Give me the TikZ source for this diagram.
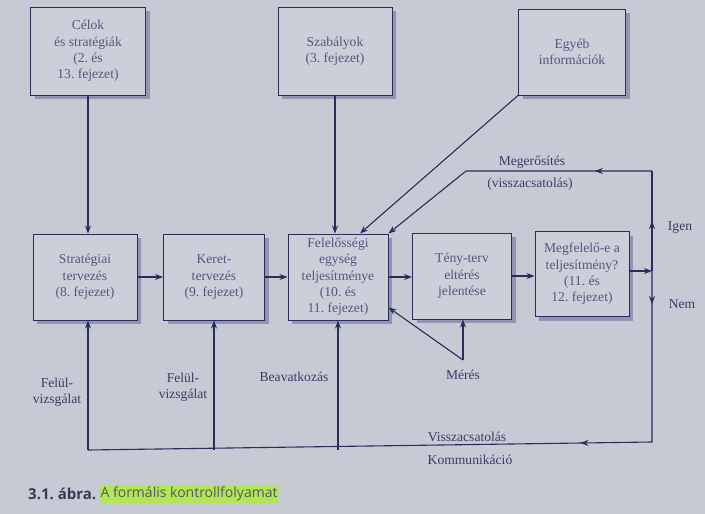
\documentclass[tikz,border=0pt]{standalone}
\usepackage{fontspec}
\setmainfont{Liberation Serif}
\newfontfamily\capfont{Open Sans}
\usetikzlibrary{arrows.meta,shadows,decorations.markings,calc}
\definecolor{bg}{RGB}{198,202,213}
\definecolor{boxfill}{RGB}{203,207,218}
\definecolor{ln}{RGB}{40,45,90}
\definecolor{txt}{RGB}{88,84,126}
\definecolor{lbltxt}{RGB}{60,60,102}
\definecolor{shd}{RGB}{140,144,174}
\definecolor{hl}{RGB}{178,230,85}
\definecolor{capdark}{RGB}{60,56,84}
\definecolor{capgray}{RGB}{86,86,98}
\frenchspacing
\begin{document}
\begin{tikzpicture}[x=1pt,y=-1pt,
  box/.style={draw=ln, line width=1pt, fill=boxfill, text=txt, align=center,
    font=\fontsize{13.6}{16.3}\selectfont, inner sep=0pt,
    drop shadow={shadow xshift=4pt, shadow yshift=-4pt, fill=shd, opacity=0.9}},
  conn/.style={draw=ln, line width=1.1pt},
  tip/.tip={Stealth[length=8pt,width=6pt]},
  arr/.style={conn, -tip},
  lbl/.style={text=lbltxt, font=\fontsize{13.6}{16.5}\selectfont, align=center, inner sep=0pt}]
\fill[bg] (0,0) rectangle (705,514);
\useasboundingbox (0,0) rectangle (705,514);

% top boxes
\node[box, minimum width=115pt, minimum height=88pt] (celok) at (88,51) {Célok\\és stratégiák\\(2. és\\13. fejezet)};
\node[box, minimum width=114pt, minimum height=88pt] (szab) at (335,51) {Szabályok\\(3. fejezet)};
\node[box, minimum width=107pt, minimum height=86pt] (egyeb) at (572,52) {Egyéb\\információk};

% middle row
\node[box, minimum width=104pt, minimum height=86pt] (strat) at (85,277) {Stratégiai\\tervezés\\(8. fejezet)};
\node[box, minimum width=101pt, minimum height=86pt] (keret) at (214,277) {Keret-\\tervezés\\(9. fejezet)};
\node[box, minimum width=100pt, minimum height=86pt] (felel) at (338,277) {Felelősségi\\egység\\teljesítménye\\(10. és\\11. fejezet)};
\node[box, minimum width=99pt, minimum height=86pt] (teny) at (462,276) {Tény-terv\\eltérés\\jelentése};
\node[box, minimum width=94pt, minimum height=85pt] (megf) at (582,274) {Megfelelő-e a\\teljesítmény?\\(11. és\\12. fejezet)};

% coordinates
\coordinate (j) at (652,271);
\coordinate (tr) at (652,171);
\coordinate (tl) at (466,171);
\coordinate (br) at (652,442);
\coordinate (bl) at (88,450);
\coordinate (ap) at (463,360);

% vertical inputs
\draw[arr] (celok.south) -- (celok.south |- strat.north);
\draw[arr] (szab.south) -- (szab.south |- felel.north);
\draw[arr] (egyeb.south west) -- ($(felel.north)+(22,0)$);

% horizontal flow
\draw[arr] (strat.east) -- (keret.west);
\draw[arr] (keret.east) -- (felel.west);
\draw[arr] (felel.east) -- (felel.east -| teny.west);
\draw[arr] (teny.east) -- (teny.east -| megf.west);
\draw[arr] (megf.east |- j) -- (j);

% Igen branch
\draw[conn, postaction={decorate}, decoration={markings, mark=at position 0.5 with {\arrow{tip}}}] (j) -- (tr);
\draw[arr, postaction={decorate}, decoration={markings, mark=at position 0.2 with {\arrow{tip}}}] (tr) -- (tl) -- (felel.north east);

% Nem branch
\draw[conn, postaction={decorate}, decoration={markings,
   mark=at position 0.045 with {\arrow{tip}},
   mark=at position 0.33 with {\arrow{tip}}}] (j) -- (br) -- (bl);
\draw[arr] (bl) -- (bl |- strat.south);
\draw[arr] (keret.south |- bl) -- (keret.south);
\draw[arr] (felel.south |- bl) -- (felel.south);

% Meres
\draw[arr] (ap) -- (ap |- teny.south);
\draw[arr] (ap) -- ($(felel.south east)+(0,-13)$);

% labels
\node[lbl] (fv1) at (57,392) {Felül-\\vizsgálat};
\node[lbl] (fv2) at (183,387) {Felül-\\vizsgálat};
\node[lbl] (bea) at (294,377) {Beavatkozás};
\node[lbl] (mer) at (463,375) {Mérés};
\node[lbl] (vis) at (467,437) {Visszacsatolás};
\node[lbl] (kom) at (470,460) {Kommunikáció};
\node[lbl] (meg) at (532,162) {Megerősítés};
\node[lbl] (vcs) at (530,184) {(visszacsatolás)};
\node[lbl] (igen) at (680,228) {Igen};
\node[lbl] (nem) at (682,304) {Nem};

% caption
\node[anchor=west, inner sep=0pt, text=capdark, font=\capfont\bfseries\fontsize{15}{17}\selectfont] (cap1) at (28,494) {3.1. ábra.};
\node[anchor=west, inner xsep=1pt, inner ysep=2pt, fill=hl, rounded corners=3pt, text=capgray,
  font=\capfont\fontsize{14}{16}\selectfont] (cap2) at ($(cap1.east)+(3,0)$) {A formális kontrollfolyamat};
\end{tikzpicture}
\end{document}
